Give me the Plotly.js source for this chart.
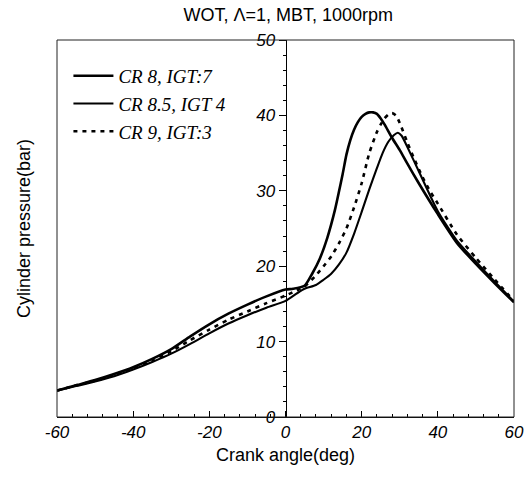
<!DOCTYPE html>
<html>
<head>
<meta charset="utf-8">
<script src="https://cdn.plot.ly/plotly-3.0.1.min.js"></script>
<style>html,body{margin:0;padding:0;background:#fff;}#chart{width:524px;height:483px;}</style>
</head>
<body>
<div id="chart"></div>
<script>
// Series names
var seriesNames = ["CR 8, IGT:7", "CR 8.5, IGT 4", "CR 9, IGT:3"];

// CR 8, IGT:7
var angleA = [-60,-55,-50,-45,-40,-35,-30,-25,-20,-15,-10,-5,0,2,5,7,9,11,13,14,15,16,17,18,19,20,21,22,23,24,25,26,28,30,32,35,40,45,50,55,60];
var pressA = [3.5,4.2,4.9,5.7,6.6,7.7,9.0,10.7,12.3,13.7,14.9,16.0,16.9,17.0,17.4,19.0,21.0,23.8,27.5,29.8,32.2,34.8,36.7,38.1,39.1,39.8,40.2,40.4,40.4,40.2,39.6,38.8,37.0,35.4,33.6,31.0,26.9,23.1,20.3,17.7,15.2];

// CR 8.5, IGT 4
var angleB = [-60,-55,-50,-45,-40,-35,-30,-25,-20,-15,-10,-5,0,3,5,8,10,12,14,16,18,20,22,24,25.5,27,28.5,29.5,30.5,32,35,40,45,50,55,60];
var pressB = [3.5,4.1,4.7,5.4,6.3,7.3,8.4,9.7,11.1,12.4,13.5,14.5,15.4,16.4,17.0,17.5,18.2,19.0,20.2,21.8,24.3,27.2,30.2,33.0,35.0,36.5,37.4,37.7,37.3,35.8,32.6,27.3,23.4,20.6,17.9,15.3];

// CR 9, IGT:3 (dashed)
var angleC = [-60,-55,-50,-45,-40,-35,-30,-25,-20,-15,-10,-5,0,3,5,8,10,12,14,16,18,20,22,24,25,26,27,28,29,30,32,34,36,38,40,45,50,55,60];
var pressC = [3.5,4.2,4.8,5.6,6.5,7.5,8.7,10.2,11.6,12.9,14.0,15.1,16.1,16.8,17.3,18.8,20.0,21.3,23.0,25.0,27.8,31.0,35.0,37.8,38.8,39.6,40.1,40.3,40.0,39.0,36.4,34.0,31.8,29.9,28.3,24.2,21.1,18.2,15.4];

// Axis ticks
var xTicks = [-60,-40,-20,0,20,40,60];
var yTicks = [0,10,20,30,40,50];

var legendFont = {family: "Liberation Serif, Times New Roman, serif", size: 19, color: "#000", style: "italic"};

var traces = [
  {x: angleA, y: pressA, name: seriesNames[0], type: "scatter", mode: "lines", line: {color: "#000", width: 2.6, shape: "spline", smoothing: 0.6}},
  {x: angleB, y: pressB, name: seriesNames[1], type: "scatter", mode: "lines", line: {color: "#000", width: 2.1, shape: "spline", smoothing: 0.6}},
  {x: angleC, y: pressC, name: seriesNames[2], type: "scatter", mode: "lines", line: {color: "#000", width: 2.6, dash: "4px,5px", shape: "spline", smoothing: 0.6}}
];

var tickFont = {family: "Liberation Sans, Arial, sans-serif", size: 17, color: "#000", style: "italic"};
var titleFamily = "Liberation Sans, Arial, sans-serif";

var layout = {
  width: 524, height: 483,
  margin: {l: 57, r: 10, t: 40, b: 66},
  paper_bgcolor: "#fff", plot_bgcolor: "#fff",
  title: {text: "WOT, Λ=1, MBT, 1000rpm", font: {family: titleFamily, size: 18, color: "#000"}, x: 0.55, xanchor: "center", y: 0.97, yanchor: "middle"},
  showlegend: true,
  legend: {x: 0.025, y: 0.955, xanchor: "left", yanchor: "top", bgcolor: "rgba(0,0,0,0)", font: legendFont, tracegroupgap: 0, itemwidth: 40},
  xaxis: {
    range: [-60, 60], tickvals: xTicks, ticktext: xTicks.map(String),
    ticks: "inside", ticklen: 6, tickcolor: "#000", tickwidth: 1,
    minor: {dtick: 4, ticks: "inside", ticklen: 3, tickcolor: "#000"},
    showgrid: false, zeroline: false, showline: true, linecolor: "#000", linewidth: 1,
    tickfont: tickFont,
    title: {text: "Crank angle(deg)", font: {family: titleFamily, size: 18, color: "#000"}, standoff: 6}
  },
  yaxis: {
    range: [0, 50], showticklabels: false, ticks: "", showgrid: false, zeroline: false, showline: false,
    title: {text: "Cylinder pressure(bar)", font: {family: titleFamily, size: 18, color: "#000"}, standoff: 20}
  },
  yaxis2: {
    overlaying: "y", anchor: "free", position: 0.5, side: "left",
    range: [0, 50], tickvals: yTicks, ticktext: yTicks.map(String),
    ticks: "outside", ticklen: 7, tickcolor: "#000", tickwidth: 1,
    minor: {dtick: 2, ticks: "outside", ticklen: 3, tickcolor: "#000"},
    showgrid: false, zeroline: false, showline: true, linecolor: "#000", linewidth: 1,
    tickfont: tickFont
  },
  shapes: [{type: "rect", xref: "paper", yref: "paper", x0: 0, x1: 1, y0: 0, y1: 1, line: {color: "#222", width: 1}}]
};

// empty trace so the central y axis is drawn
traces.push({x: [null], y: [null], yaxis: "y2", showlegend: false, hoverinfo: "skip", type: "scatter", mode: "lines"});

Plotly.newPlot("chart", traces, layout, {staticPlot: true, displayModeBar: false});
</script>
</body>
</html>
